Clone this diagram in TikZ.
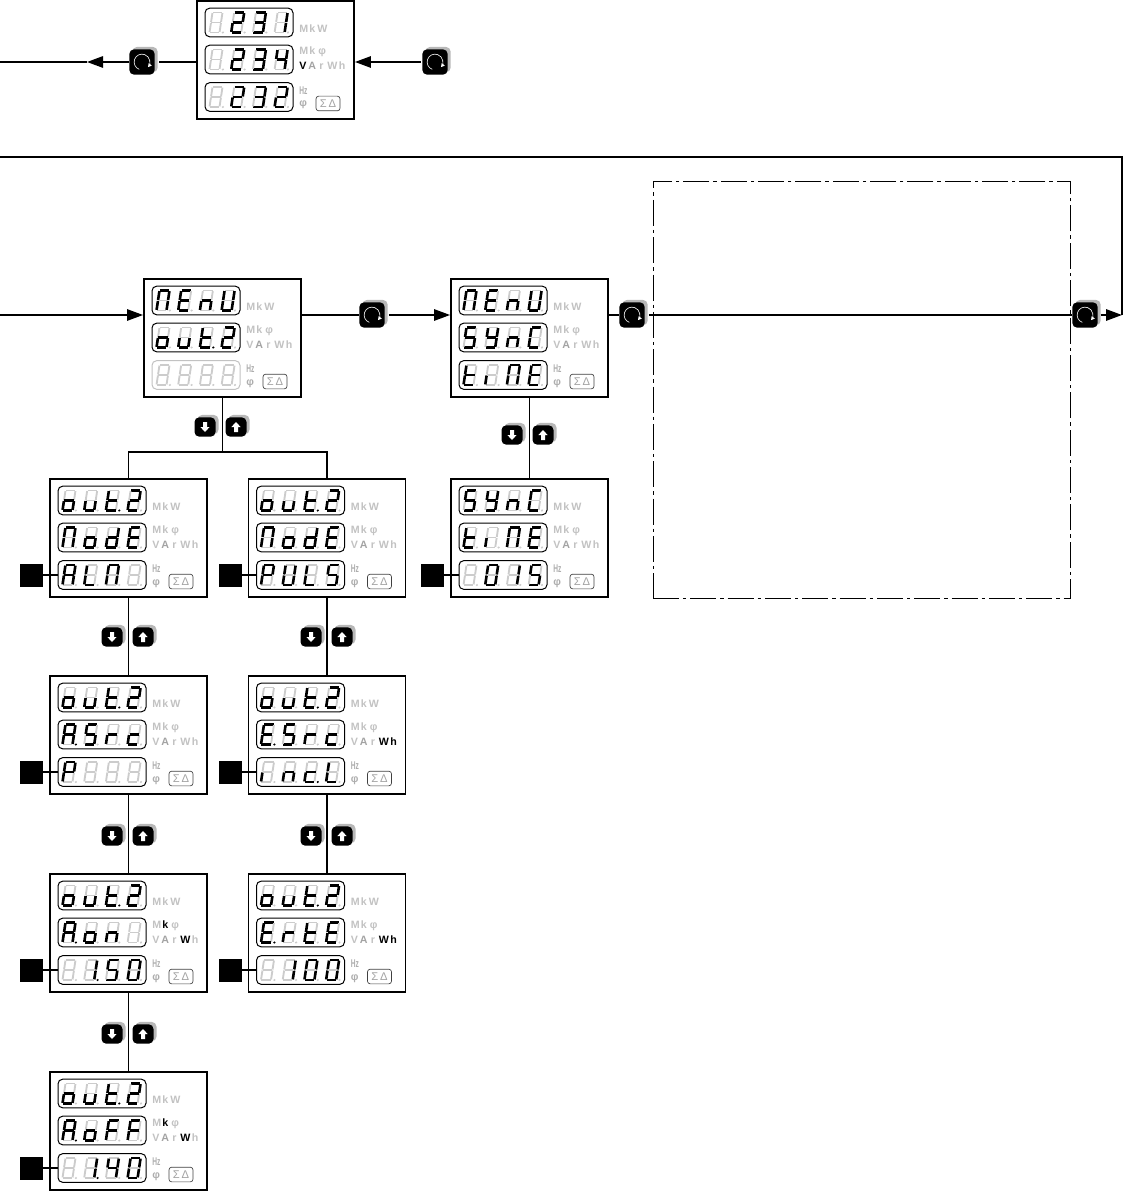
\documentclass[tikz,border=0pt]{standalone}
\usepackage{fontspec}
\setmainfont{Liberation Sans}
\usetikzlibrary{arrows.meta,calc,shadows}

\colorlet{g}{black!24}
\colorlet{b}{black}
\colorlet{ghost}{black!20}

\tikzset{
	flow/.style={line width=1.4pt},
	branch/.style={line width=0.85pt},
	flowtip/.style={flow,-{Triangle[length=12pt,width=8.5pt]}},
	panelbox/.style={draw,line width=1.4pt,minimum width=117.75pt,minimum height=88.5pt,inner sep=0pt},
	lcdframe/.style={rounded corners=3.5pt,line width=0.75pt,minimum width=66pt,minimum height=21.5pt,inner sep=0pt},
	unit/.style={font=\fontsize{8}{9}\selectfont\bfseries,inner sep=0pt,anchor=base west},
	sigmabtn/.style={draw=black!75,line width=0.5pt,rounded corners=2pt,text=black!36,font=\fontsize{8.4}{9}\selectfont,minimum width=18pt,minimum height=11pt,inner sep=0pt},
	sqtag/.style={fill=black,minimum size=17.25pt,inner sep=0pt},
	keybtn/.style={fill=black,rounded corners=3.5pt,inner sep=0pt,copy shadow={shadow xshift=2.25pt,shadow yshift=1.8pt,fill=black!28,draw=none}},
	seg0/.style={color=ghost,line width=1.4pt},
	seg1/.style={color=black,line width=1.95pt},
}

% bits are the segments a b c d e f g and the point
\newcommand{\defseg}[2]{\expandafter\def\csname lcd#1\endcsname{#2}}
\defseg{-}{00000000}
\defseg{0}{11111100} \defseg{1}{01100000} \defseg{2}{11011010}
\defseg{3}{11110010} \defseg{4}{01100110} \defseg{5}{10110110}
\defseg{A}{11101110} \defseg{E}{10011110} \defseg{M}{11101100}
\defseg{n}{00101010} \defseg{U}{01111100} \defseg{o}{00111010}
\defseg{u}{00111000} \defseg{t}{00011110} \defseg{S}{10110110}
\defseg{Y}{01110110} \defseg{C}{10011100} \defseg{i}{00001000}
\defseg{d}{01111010} \defseg{L}{00011100} \defseg{P}{11001110}
\defseg{r}{00001010} \defseg{c}{00011010} \defseg{F}{10001110}
\defseg{A.}{11101111} \defseg{E.}{10011111} \defseg{t.}{00011111}
\defseg{c.}{00011011} \defseg{1.}{01100001}

\newcommand{\sevenseg}[8]{
	\draw[seg#1] (-4.6,-10) -- (4.6,-10);
	\draw[seg#2] (5,-9.4) -- (5,-0.5);
	\draw[seg#3] (5,0.5) -- (5,9.4);
	\draw[seg#4] (-4.6,10) -- (4.6,10);
	\draw[seg#5] (-5,0.5) -- (-5,9.4);
	\draw[seg#6] (-5,-9.4) -- (-5,-0.5);
	\draw[seg#7] (-4.6,0) -- (4.6,0);
	\fill[seg#8] (8.4,10) circle (0.9pt);
}
\newcommand{\lcdchar}[3]{
	\begin{scope}[shift={({#1},{#2})},xslant=0.15]
	\edef\bits{\csname lcd#3\endcsname}
	\expandafter\sevenseg\bits
	\end{scope}
}
\newcommand{\lcdrow}[5]{
	\node[lcdframe,draw=#5] (#1) at ({#2+52},{#3}) {};
	\foreach \gl [count=\n] in {#4}
		\lcdchar{#2+19+(\n-1)*21.7}{#3}{\gl};
}
\def\setlit#1#2#3#4#5{\def\colk{#1}\def\colV{#2}\def\colW{#3}\def\colh{#4}\def\cframe{#5}}

% name, left, top, three rows, colours of k V W h and of the lower frame
\newcommand{\panel}[7]{
	\setlit#7
	\node[panelbox] (#1) at (#2+78.5,#3+59) {};
	\lcdrow{#1 r1}{#2}{#3+21.5}{#4}{black}
	\lcdrow{#1 r2}{#2}{#3+58.5}{#5}{black}
	\lcdrow{#1 r3}{#2}{#3+96}{#6}{\cframe}
	\foreach \u/\ux/\uy/\uc [count=\n] in {M/102/31.5/g,k/112/31.5/g,W/120/31.5/g,
		M/102/54/g,k/112/54/\colk,φ/121/54/g,
		V/102/69/\colV,A/111/69/black!36,r/122/69/g,W/130/69/\colW,h/141.5/69/\colh}
		\node[unit,text=\uc] (#1 u\n) at (#2+\ux,#3+\uy) {\u};
	\node[unit,text=black!32] (#1 hz) at (#2+102,#3+93.5) {\scalebox{0.62}[1.05]{Hz}};
	\node[unit,text=black!32] (#1 phi) at (#2+102,#3+106) {φ};
	\node[sigmabtn] (#1 sd) at (#2+131,#3+102.5) {Σ\,Δ};
}
\newcommand{\sqbox}[3]{
	\node[sqtag] (#1 sq) at (#2-18.5,#3+96) {};
	\draw[branch] (#1 sq) -- (#1 r3);
}
\newcommand{\knob}[3]{
	\node[keybtn,minimum size=19pt] (#1) at (#2,#3) {};
	\draw[white,line width=0.45pt,-{Triangle[length=2.6pt,width=2.8pt]}] (#1.center) ++(250:5.9pt) arc[start angle=250,end angle=-40,radius=5.9pt];
}
% sign 1 is the down key, sign -1 the up key
\newcommand{\arrowkey}[4]{
	\node[keybtn,minimum width=15.75pt,minimum height=14.5pt] (#1) at (#2,#3) {};
	\fill[white,shift={(#1.center)}] (0,5*#4) -- (4.6,0) -- (2,0) -- (2,-5*#4) -- (-2,-5*#4) -- (-2,0) -- (-4.6,0) -- cycle;
}

\begin{document}
\begin{tikzpicture}[x=0.75pt,y=-0.75pt]

\useasboundingbox (0,0) rectangle (1126,1191);

\node[draw,line width=0.6pt,dash pattern=on 19.5pt off 3pt on 2.5pt off 3pt,minimum width=312.75pt,minimum height=312.75pt,inner sep=0pt] (optionBox) at (861.5,390) {};

% panels
\panel{topVolts}{197}{1}{-,2,3,1}{-,2,3,4}{-,2,3,2}{gbggb}
\panel{menuOut}{144}{279}{M,E,n,U}{o,u,t.,2}{-,-,-,-}{ggggg}
\panel{menuSync}{451}{279}{M,E,n,U}{S,Y,n,C}{t,i,M,E}{ggggb}
\panel{outAlm}{50}{479}{o,u,t.,2}{M,o,d,E}{A,L,M,-}{ggggb}
\panel{outPuls}{248.5}{479}{o,u,t.,2}{M,o,d,E}{P,U,L,S}{ggggb}
\panel{syncTime}{451}{479}{S,Y,n,C}{t,i,M,E}{-,0,1,5}{ggggb}
\panel{outAsrc}{50}{676}{o,u,t.,2}{A.,S,r,c}{P,-,-,-}{ggggb}
\panel{outEsrc}{248.5}{676}{o,u,t.,2}{E.,S,r,c}{i,n,c.,L}{ggbbb}
\panel{outAon}{50}{874}{o,u,t.,2}{A.,o,n,-}{-,1.,5,0}{bgbgb}
\panel{outErte}{248.5}{874}{o,u,t.,2}{E.,r,t,E}{-,1,0,0}{ggbbb}
\panel{outAoff}{50}{1072}{o,u,t.,2}{A.,o,F,F}{-,1.,4,0}{bgbgb}

\sqbox{outAlm}{50}{479}
\sqbox{outPuls}{248.5}{479}
\sqbox{syncTime}{451}{479}
\sqbox{outAsrc}{50}{676}
\sqbox{outEsrc}{248.5}{676}
\sqbox{outAon}{50}{874}
\sqbox{outErte}{248.5}{874}
\sqbox{outAoff}{50}{1072}

% keys
\knob{knobA}{142}{62}
\knob{knobB}{435}{62}
\knob{knobC}{372}{315}
\knob{knobD}{632}{315}
\knob{knobE}{1085}{315}
\foreach \nm/\kx/\ky in {keyA/205/427,keyB/512/435,keyC/112/637,keyD/311/637,keyE/112/836,keyF/311/836,keyG/112/1034}
	\arrowkey{\nm d}{\kx}{\ky}{1};
\foreach \nm/\kx/\ky in {keyA/236/427,keyB/543/435,keyC/143/637,keyD/342/637,keyE/143/836,keyF/342/836,keyG/143/1034}
	\arrowkey{\nm u}{\kx}{\ky}{-1};

\coordinate (leftEnd) at (0,62);
\coordinate (leftTip) at (87,62);
\coordinate (menuIn) at (0,315);
\coordinate (loopStart) at (0,157);
\coordinate (loopTip) at (1122,315);
\coordinate (split) at (menuOut.south |- 0,452);

% connectors
\draw[flowtip,shorten <=1pt] (knobB) -- (knobB -| topVolts.east);
\draw[flow,shorten >=3pt] (knobA -| topVolts.west) -- (knobA);
\draw[flowtip] (knobA) -- (leftTip);
\draw[flow] (leftTip) -- (leftEnd);
\draw[flowtip] (menuIn) -- (menuIn -| menuOut.west);
\draw[flow] (knobC -| menuOut.east) -- (knobC);
\draw[flowtip,shorten <=3pt] (knobC) -- (knobC -| menuSync.west);
\draw[flow] (knobD -| menuSync.east) -- (knobD);
\draw[flow,shorten <=3pt] (knobD) -- (knobE);
\draw[flowtip,shorten <=2pt] (knobE) -- (loopTip);
\draw[flow] (loopStart) -| (loopTip);

\draw[flow] (menuOut) -- (split);
\draw[branch] (outAlm.north) |- (split) -| (outPuls.north);
\draw[flow] (menuSync) -- (syncTime);
\draw[branch,line width=1.1pt] (outAlm) -- (outAsrc);
\draw[branch,line width=1.1pt] (outAsrc) -- (outAon);
\draw[branch,line width=1.1pt] (outAon) -- (outAoff);
\draw[flow] (outPuls) -- (outEsrc);
\draw[flow] (outEsrc) -- (outErte);

\end{tikzpicture}
\end{document}
